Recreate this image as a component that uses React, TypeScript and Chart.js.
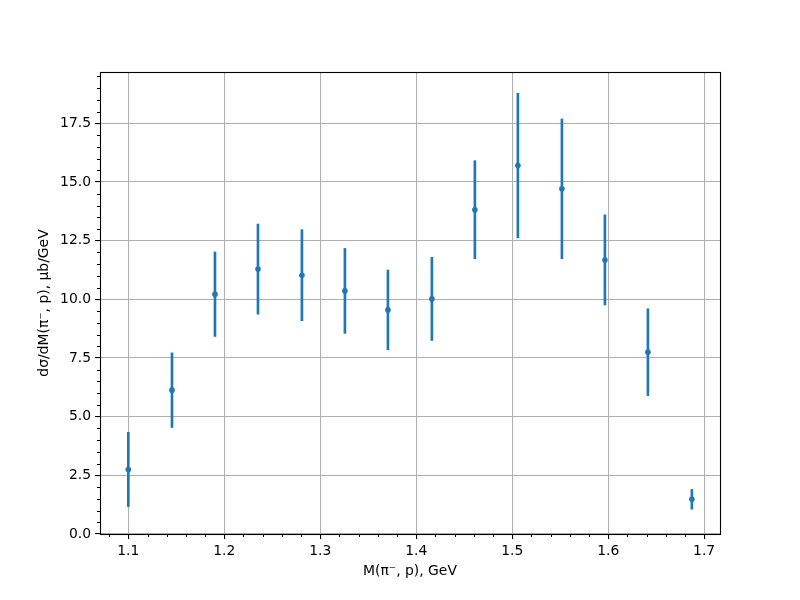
import React, { useEffect, useRef } from "react";
import { Chart, registerables } from "chart.js";

Chart.register(...registerables);

// Invariant mass M(pi-, p) bin centres, GeV
const massGeV = [1.1, 1.1455, 1.1903, 1.2351, 1.2809, 1.3257, 1.3705, 1.4163, 1.4611, 1.5059, 1.5518, 1.5966, 1.6414, 1.6872];
// dσ/dM values, µb/GeV
const crossSection = [2.75, 6.13, 10.22, 11.29, 11.03, 10.36, 9.55, 10.02, 13.82, 15.7, 14.71, 11.68, 7.75, 1.48];
// symmetric errors
const crossError = [1.58, 1.59, 1.8, 1.92, 1.94, 1.81, 1.7, 1.77, 2.09, 3.08, 2.98, 1.92, 1.85, 0.42];

const xTicks = [1.1, 1.2, 1.3, 1.4, 1.5, 1.6, 1.7];
const yTicks = [0, 2.5, 5.0, 7.5, 10.0, 12.5, 15.0, 17.5];

const xTitle = "M(π⁻, p), GeV";
const yTitle = "dσ/dM(π⁻, p), μb/GeV";

const BLUE = "#1f77b4";
const FONT = "'DejaVu Sans', 'Liberation Sans', sans-serif";

const framePlugin = {
  id: "frameAndMinor",
  afterDraw(chart: any) {
    const { ctx, chartArea } = chart;
    const xs = chart.scales.x;
    const ys = chart.scales.y;
    ctx.save();
    ctx.strokeStyle = "#000";
    ctx.lineWidth = 1;
    // minor ticks x (every 0.02)
    const xStep = 0.02;
    for (let k = Math.ceil(xs.min / xStep); k * xStep <= xs.max + 1e-9; k++) {
      const v = k * xStep;
      if (Math.abs(v / 0.1 - Math.round(v / 0.1)) < 1e-6) continue;
      const px = Math.round(xs.getPixelForValue(v)) + 0.5;
      ctx.beginPath();
      ctx.moveTo(px, chartArea.bottom);
      ctx.lineTo(px, chartArea.bottom + 3);
      ctx.stroke();
    }
    // minor ticks y (every 0.5)
    const yStep = 0.5;
    for (let k = Math.ceil(ys.min / yStep); k * yStep <= ys.max + 1e-9; k++) {
      const v = k * yStep;
      if (Math.abs(v / 2.5 - Math.round(v / 2.5)) < 1e-6) continue;
      const py = Math.round(ys.getPixelForValue(v)) + 0.5;
      ctx.beginPath();
      ctx.moveTo(chartArea.left - 3, py);
      ctx.lineTo(chartArea.left, py);
      ctx.stroke();
    }
    // frame
    ctx.lineWidth = 1.1;
    ctx.strokeRect(
      Math.round(chartArea.left) + 0.5,
      Math.round(chartArea.top) + 0.5,
      Math.round(chartArea.right - chartArea.left),
      Math.round(chartArea.bottom - chartArea.top)
    );
    ctx.restore();
  },
};

export default function App() {
  const ref = useRef<HTMLCanvasElement | null>(null);

  useEffect(() => {
    if (!ref.current) return;
    Chart.defaults.font.family = FONT;
    const barData = massGeV.map((x, i) => ({
      x,
      y: [crossSection[i] - crossError[i], crossSection[i] + crossError[i]],
    }));
    const pointData = massGeV.map((x, i) => ({ x, y: crossSection[i] }));

    const chart = new Chart(ref.current, {
      type: "scatter",
      data: {
        datasets: [
          {
            type: "bar",
            data: barData as any,
            backgroundColor: BLUE,
            borderWidth: 0,
            barThickness: 2,
            order: 2,
          } as any,
          {
            type: "scatter",
            data: pointData,
            backgroundColor: BLUE,
            borderColor: BLUE,
            pointRadius: 2.8,
            borderWidth: 0,
            order: 1,
          } as any,
        ],
      },
      options: {
        animation: false,
        responsive: false,
        devicePixelRatio: 1,
        layout: { padding: { top: 72, right: 80, left: 0, bottom: 0 } },
        plugins: { legend: { display: false }, tooltip: { enabled: false } },
        scales: {
          x: {
            type: "linear",
            min: 1.0705,
            max: 1.7165,
            offset: false,
            afterBuildTicks: (s: any) => {
              s.ticks = xTicks.map((v) => ({ value: v }));
            },
            afterFit: (s: any) => {
              s.height = 66;
            },
            border: { display: false },
            grid: {
              offset: false,
              color: "#b0b0b0",
              lineWidth: 1.1,
              tickColor: "#000",
              tickLength: 5,
              tickWidth: 1.1,
            },
            ticks: {
              autoSkip: false,
              maxRotation: 0,
              color: "#000",
              padding: 4,
              font: { size: 13.9, family: FONT },
              callback: (v: any) => Number(v).toFixed(1),
            },
            title: {
              display: true,
              text: xTitle,
              color: "#000",
              font: { size: 13.9, family: FONT },
              padding: { top: 0, bottom: 20 },
            },
          },
          y: {
            type: "linear",
            min: 0,
            max: 19.69,
            afterBuildTicks: (s: any) => {
              s.ticks = yTicks.map((v) => ({ value: v }));
            },
            afterFit: (s: any) => {
              s.width = 100;
            },
            border: { display: false },
            grid: {
              color: "#b0b0b0",
              lineWidth: 1.1,
              tickColor: "#000",
              tickLength: 5,
              tickWidth: 1.1,
            },
            ticks: {
              autoSkip: false,
              color: "#000",
              padding: 4,
              font: { size: 13.9, family: FONT },
              callback: (v: any) => Number(v).toFixed(1),
            },
            title: {
              display: true,
              text: yTitle,
              color: "#000",
              font: { size: 13.9, family: FONT },
              padding: { top: 36, bottom: 0 },
            },
          },
        },
      },
      plugins: [framePlugin],
    });
    return () => chart.destroy();
  }, []);

  return (
    <div style={{ position: "fixed", left: 0, top: 0, width: 800, height: 600, background: "#fff" }}>
      <canvas ref={ref} width={800} height={600} style={{ width: 800, height: 600 }} />
    </div>
  );
}
